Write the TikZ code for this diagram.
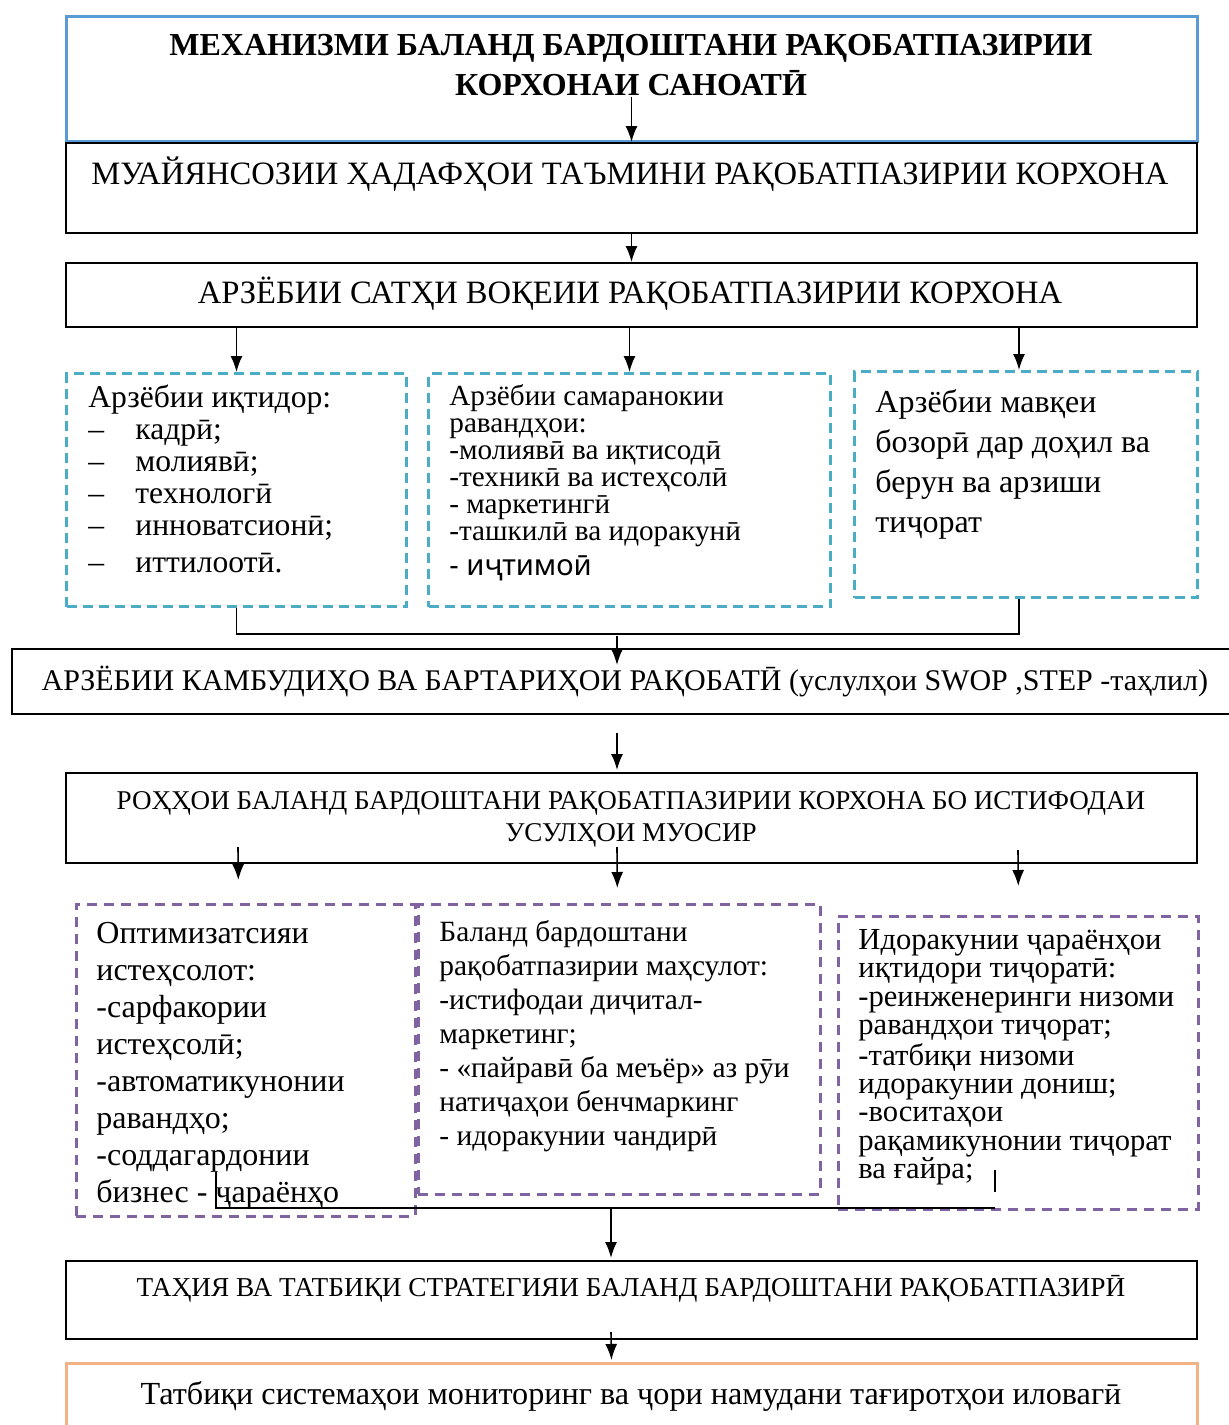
\documentclass[tikz,border=0pt]{standalone}
\usepackage{fontspec}
\setmainfont{Liberation Serif}
\newfontfamily\sansfont{Noto Sans}
\usetikzlibrary{arrows.meta}
\usetikzlibrary{calc}
\tikzset{>={Latex[length=8pt,width=6pt]}}
\definecolor{titleblue}{HTML}{5B9BD5}
\definecolor{evalcyan}{HTML}{4BACC6}
\definecolor{waypurple}{HTML}{8064A2}
\definecolor{monitorange}{HTML}{F4B183}
\newcommand{\dashitem}{\makebox[23.5pt][l]{–}}

\begin{document}
\begin{tikzpicture}[x=0.5pt, y=-0.5pt,
    box/.style={draw, line width=1pt, anchor=north west, inner sep=0pt},
    evalbox/.style={draw=evalcyan, line width=1.5pt, dash pattern=on 5pt off 3pt, anchor=north west, inner sep=0pt},
    waybox/.style={draw=waypurple, line width=1.3pt, dash pattern=on 5pt off 3.5pt, anchor=north west, inner sep=0pt},
    txt/.style={anchor=north west, inner sep=0pt, align=left},
    ctr/.style={anchor=north, inner sep=0pt, align=center},
    one/.style={anchor=base, inner sep=0pt},
    arr/.style={->, line width=0.8pt}]
    \useasboundingbox (0,0) rectangle (1229,1425);

    % frames
    \node[box, draw=titleblue, line width=1.5pt, minimum width=565.5pt, minimum height=62.5pt] (mech) at (65,15) {};
    \node[box, minimum width=565.5pt, minimum height=45pt] (goals) at (65,142) {};
    \node[box, minimum width=565.5pt, minimum height=32pt] (level) at (65,262) {};
    \node[evalbox, minimum width=170pt, minimum height=116.5pt] (evpot) at (65,372) {};
    \node[evalbox, minimum width=201pt, minimum height=116.5pt] (evproc) at (427,372) {};
    \node[evalbox, minimum width=171.5pt, minimum height=113pt] (evmarket) at (853,370) {};
    \node[box, minimum width=614.5pt, minimum height=32.5pt] (swot) at (11,648) {};
    \node[box, minimum width=565.5pt, minimum height=45pt] (ways) at (65,772) {};
    \node[waybox, minimum width=169.5pt, minimum height=156pt] (optim) at (75,903) {};
    \node[waybox, minimum width=201pt, minimum height=145pt] (compet) at (417,903) {};
    \node[waybox, minimum width=180pt, minimum height=146.5pt] (flows) at (837,915) {};
    \node[box, minimum width=565.5pt, minimum height=39pt] (strat) at (65,1260) {};
    \node[box, draw=monitorange, line width=1.5pt, minimum width=565.5pt, minimum height=37pt] (monit) at (65,1362) {};

    % texts
    \node[ctr, font=\bfseries\fontsize{16}{20}\selectfont] (mechtxt) at (631,34) {МЕХАНИЗМИ БАЛАНД БАРДОШТАНИ РАҚОБАТПАЗИРИИ\\КОРХОНАИ САНОАТӢ};
    \node[one, font=\fontsize{16.3}{19}\selectfont] (goalstxt) at (630,184) {МУАЙЯНСОЗИИ ҲАДАФҲОИ ТАЪМИНИ РАҚОБАТПАЗИРИИ КОРХОНА};
    \node[one, font=\fontsize{16.3}{19}\selectfont] (leveltxt) at (630,303) {АРЗЁБИИ САТҲИ ВОҚЕИИ РАҚОБАТПАЗИРИИ КОРХОНА};
    \node[txt, font=\fontsize{15.8}{16}\selectfont] (evpottxt) at (88,384) {Арзёбии иқтидор:\\\dashitem кадрӣ;\\\dashitem молиявӣ;\\\dashitem технологӣ\\\dashitem инноватсионӣ;\\[2.5pt]\dashitem иттилоотӣ.};
    \node[txt, font=\fontsize{14.6}{13.5}\selectfont] (evproctxt) at (449,384) {Арзёбии самаранокии\\равандҳои:\\-молиявӣ ва иқтисодӣ\\-техникӣ ва истеҳсолӣ\\- маркетингӣ\\-ташкилӣ ва идоракунӣ\\[4pt]{\sansfont - иҷтимоӣ}};
    \node[txt, font=\fontsize{16}{20}\selectfont] (evmarkettxt) at (875,389) {Арзёбии мавқеи\\бозорӣ дар доҳил ва\\берун ва арзиши\\тиҷорат};
    \node[one, font=\fontsize{15}{18}\selectfont] (swottxt) at (625,690) {АРЗЁБИИ КАМБУДИҲО ВА БАРТАРИҲОИ РАҚОБАТӢ (услулҳои SWOP ,STEP -таҳлил)};
    \node[ctr, font=\fontsize{13.55}{16}\selectfont] (waystxt) at (631,791) {РОҲҲОИ БАЛАНД БАРДОШТАНИ РАҚОБАТПАЗИРИИ КОРХОНА БО ИСТИФОДАИ\\УСУЛҲОИ МУОСИР};
    \node[txt, font=\fontsize{16}{18.5}\selectfont] (optimtxt) at (96,922) {Оптимизатсияи\\истеҳсолот:\\-сарфакории\\истеҳсолӣ;\\-автоматикунонии\\равандҳо;\\-соддагардонии\\бизнес - ҷараёнҳо};
    \node[txt, font=\fontsize{14.7}{17}\selectfont] (competxt) at (439,920) {Баланд бардоштани\\рақобатпазирии маҳсулот:\\-истифодаи диҷитал-\\маркетинг;\\- «пайравӣ ба меъёр» аз рӯи\\натиҷаҳои бенчмаркинг\\- идоракунии чандирӣ};
    \node[txt, font=\fontsize{15.3}{14.2}\selectfont] (flowstxt) at (858,929) {Идоракунии ҷараёнҳои\\иқтидори тиҷоратӣ:\\-реинженеринги низоми\\равандҳои тиҷорат;\\-татбиқи низоми\\идоракунии дониш;\\-воситаҳои\\рақамикунонии тиҷорат\\ва ғайра;};
    \node[one, font=\fontsize{13.65}{16}\selectfont] (strattxt) at (631,1296) {ТАҲИЯ ВА ТАТБИҚИ СТРАТЕГИЯИ БАЛАНД БАРДОШТАНИ РАҚОБАТПАЗИРӢ};
    \node[one, font=\fontsize{16.1}{19}\selectfont] (monittxt) at (631,1404) {Татбиқи системаҳои мониторинг ва ҷори намудани тағиротҳои иловагӣ};

    % arrows
    \draw[arr] ($(goals.north)+(0,-45)$) -- (goals.north);
    \draw[arr] (goals.south) -- (level.north);
    \draw[arr] (level.south -| evpot.north) -- (evpot.north);
    \draw[arr] (level.south -| evproc.north) -- (evproc.north);
    \draw[arr] ($(level.south -| evmarket.north)+(-7,0)$) -- ($(evmarket.north)+(-7,0)$);
    \draw[line width=0.8pt] (evpot.south) |- ($(evmarket.south)+(-7,35)$) -- ($(evmarket.south)+(-7,0)$);
    \draw[arr] ($(swot.north)+(-9.5,-12)$) -- ($(swot.north)+(-9.5,17)$);
    \draw[arr] ($(swot.south)+(-9.5,18)$) -- ($(ways.north)+(-14.5,-2)$);
    \draw[arr] ($(ways.south)+(-393.5,-17)$) -- ($(optim.north)+(-7.5,-23)$);
    \draw[arr] ($(ways.south)+(-14.5,-17)$) -- ($(compet.north)+(-2,-15)$);
    \draw[arr] ($(ways.south)+(386.5,-14)$) -- ($(flows.north)+(0,-29)$);
    \coordinate (joinL) at (216,1208);
    \coordinate (joinR) at (995,1208);
    \draw[line width=1pt] ($(joinL)+(0,-36)$) -- (joinL) -- (joinR);
    \draw[line width=0.8pt] ($(joinR)+(0,-38)$) -- ($(joinR)+(0,-16)$);
    \draw[arr] ($(strat.north)+(-20.5,-52)$) -- ($(strat.north)+(-20.5,-2)$);
    \draw[arr] ($(strat.south)+(-20.5,-8)$) -- ($(monit.north)+(-20.5,-2)$);
\end{tikzpicture}
\end{document}
